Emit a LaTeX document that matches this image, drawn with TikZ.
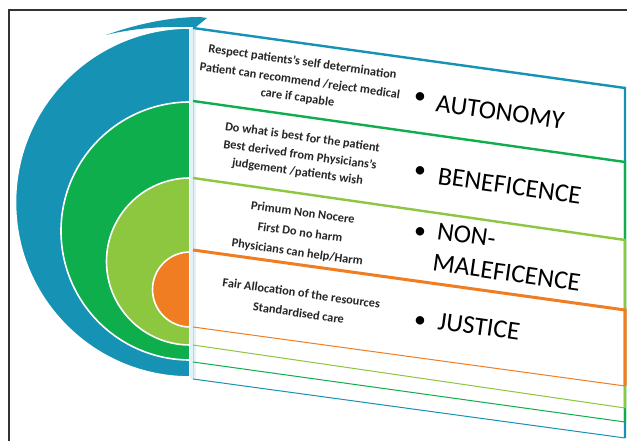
\documentclass[tikz,border=0pt]{standalone}
\usepackage{fontspec}
\setmainfont{Carlito}
\begin{document}
\begin{tikzpicture}[x=1bp,y=1bp,
  small/.style={font=\bfseries\fontsize{12.4}{17}\selectfont, inner sep=0pt, rotate=-8, text=black!85, align=center},
  big/.style={font=\fontsize{26}{32}\selectfont, inner sep=0pt, rotate=-8, text=black},
  bul/.style={font=\fontsize{24}{24}\selectfont, inner sep=0pt, text=black}]
\definecolor{cblue}{RGB}{22,146,180}
\definecolor{cgreen}{RGB}{14,174,76}
\definecolor{clgreen}{RGB}{141,198,63}
\definecolor{corange}{RGB}{240,125,34}
\useasboundingbox (0,0) rectangle (627,441);
\fill[white] (0,0) rectangle (627,441);
% frame
\draw[line width=2.4bp, black!80] (9,0) -- (9,431) -- (628,431);
% top flap
\fill[cblue] (106,406) .. controls (140,418) and (172,424) .. (200,424) -- (207,423) -- (196,414) -- (190,414) .. controls (160,415) and (130,412) .. (106,406) -- cycle;
% semicircles
\filldraw[fill=cblue, draw=white, line width=1.6bp] (190,413) arc[start angle=90, end angle=270, radius=174.5] -- cycle;
\filldraw[fill=cgreen, draw=white, line width=1.6bp] (190,339) arc[start angle=90, end angle=270, radius=129] -- cycle;
\filldraw[fill=clgreen, draw=white, line width=1.6bp] (190,263) arc[start angle=90, end angle=270, radius=83.5] -- cycle;
\filldraw[fill=corange, draw=white, line width=1.6bp] (190,189) arc[start angle=90, end angle=270, radius=37.5] -- cycle;
% divider band
\fill[cblue!12] (190,413) -- (196,413) -- (196,62) -- (190,62) -- cycle;
\draw[cblue!30, line width=1bp] (193,413) -- (193,62);
\draw[cgreen!35, line width=1bp] (193,340) -- (193,79);
\draw[clgreen!50, line width=1bp] (193,263) -- (193,96);
\draw[corange!40, line width=1bp] (193,191) -- (193,114);
% boxes
\draw[cblue, line width=2.4bp] (193,413) -- (625,353) -- (625,3);
\draw[cblue, line width=1bp] (193,62) -- (625,3);
\draw[cgreen, line width=2.4bp] (193,340) -- (625,279) -- (625,19);
\draw[cgreen, line width=1bp] (193,79) -- (625,19);
\draw[clgreen, line width=2.4bp] (193,263) -- (625,201) -- (625,33);
\draw[clgreen, line width=1bp] (193,96) -- (625,33);
\draw[corange, line width=3bp] (193,191) -- (625,131) -- (625,55);
\draw[corange, line width=1bp] (193,114) -- (625,55);
% small text
\node[small] (ta) at (300,361) {Respect patients's self determination\\[2bp]Patient can recommend /reject medical\\care if capable};
\node[small] (tb) at (300,286) {Do what is best for the patient\\[1bp]Best derived from Physicians's\\judgement /patients wish};
\node[small, font=\bfseries\fontsize{12.4}{20}\selectfont] (tc) at (300,208) {Primum Non Nocere\\First Do no harm\\Physicians can help/Harm};
\node[small, font=\bfseries\fontsize{12.4}{20}\selectfont] (td) at (300,138) {Fair Allocation of the resources\\Standardised care};
% headings
\node[bul] (p1) at (420,343) {•};
\node[big, anchor=base west] (h1) at (435,330) {AUTONOMY};
\node[bul] (p2) at (420,269) {•};
\node[big, anchor=base west] (h2) at (437,257) {BENEFICENCE};
\node[bul] (p3) at (420,208) {•};
\node[big, align=left] (h3) at (509,184) {NON-\\MALEFICENCE};
\node[bul] (p4) at (420,119) {•};
\node[big, anchor=base west] (h5) at (437,112) {JUSTICE};
\end{tikzpicture}
\end{document}
